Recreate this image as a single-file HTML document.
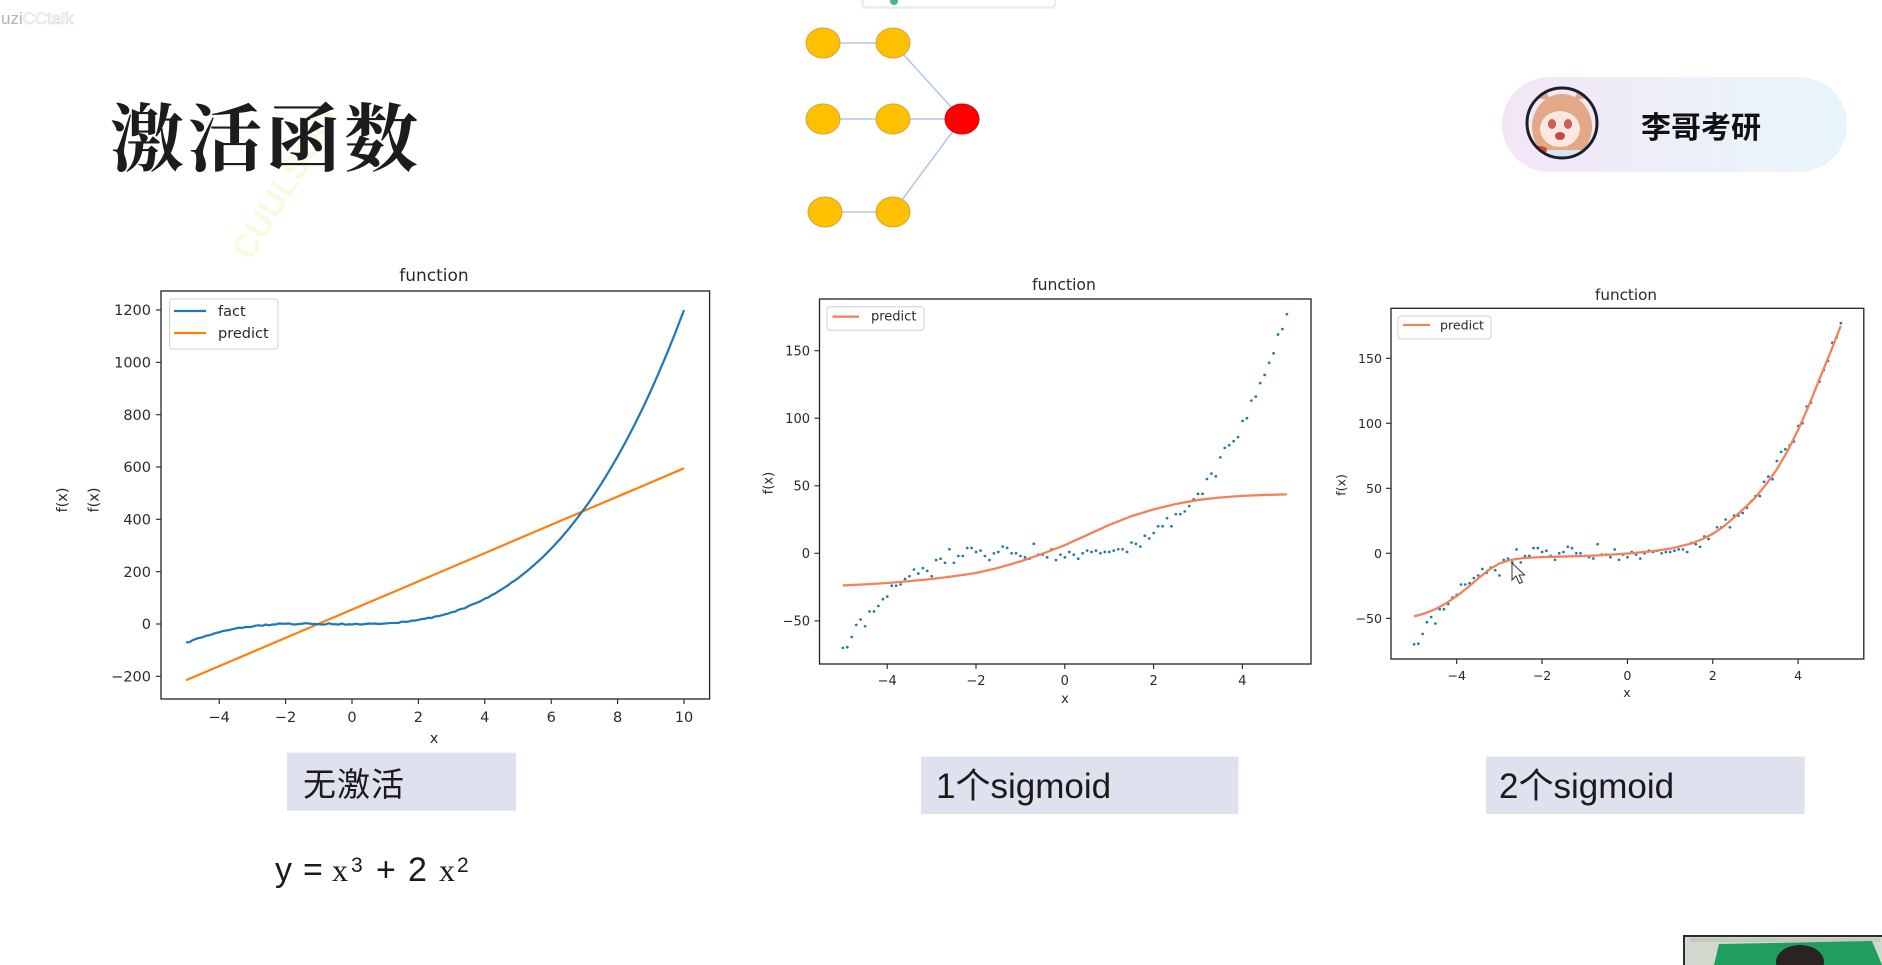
<!DOCTYPE html>
<html>
<head>
<meta charset="utf-8">
<style>
html,body{margin:0;padding:0;background:#fff;}
body{width:1882px;height:965px;overflow:hidden;}
svg{display:block;}
.t{font-family:"DejaVu Sans","Liberation Sans",sans-serif;fill:#2a2a2a;}
</style>
</head>
<body>
<svg width="1882" height="965" viewBox="0 0 1882 965" xmlns="http://www.w3.org/2000/svg">
<defs>
  <linearGradient id="pill" x1="0" y1="0" x2="1" y2="0">
    <stop offset="0" stop-color="#f3e5f7"/>
    <stop offset="0.55" stop-color="#ecf0fa"/>
    <stop offset="1" stop-color="#e8f5fb"/>
  </linearGradient>
  <clipPath id="av"><circle cx="1562" cy="123" r="34"/></clipPath>
  <path id="pts" d="M-5 -70h.004M-4.9 -69.5h.004M-4.8 -62h.004M-4.7 -53h.004M-4.6 -49h.004M-4.5 -54h.004M-4.4 -43h.004M-4.3 -43h.004M-4.2 -39h.004M-4.1 -34h.004M-4 -32h.004M-3.9 -24h.004M-3.8 -24h.004M-3.7 -23h.004M-3.6 -19h.004M-3.5 -17h.004M-3.4 -12h.004M-3.3 -15h.004M-3.2 -11h.004M-3.1 -13h.004M-3 -17h.004M-2.9 -5h.004M-2.8 -4h.004M-2.7 -7h.004M-2.6 3h.004M-2.5 -7h.004M-2.4 -2h.004M-2.3 -2h.004M-2.2 4h.004M-2.1 4h.004M-2 1h.004M-1.9 2h.004M-1.8 -2h.004M-1.7 -5h.004M-1.6 0h.004M-1.5 1h.004M-1.4 5h.004M-1.3 4h.004M-1.2 0h.004M-1.1 0h.004M-1 -2h.004M-0.9 -3h.004M-0.8 -4h.004M-0.7 7h.004M-0.6 -1h.004M-0.5 -1h.004M-0.4 -3h.004M-0.3 3h.004M-0.2 -5h.004M-0.1 -1h.004M0 -3h.004M0.1 1h.004M0.2 -1h.004M0.3 -4h.004M0.4 0h.004M0.5 2h.004M0.6 1h.004M0.7 2h.004M0.8 0h.004M0.9 1h.004M1 1h.004M1.1 2h.004M1.2 3h.004M1.3 3h.004M1.4 1h.004M1.5 8h.004M1.6 7h.004M1.7 5h.004M1.8 13h.004M1.9 11h.004M2 15h.004M2.1 20h.004M2.2 20h.004M2.3 26h.004M2.4 20h.004M2.5 29h.004M2.6 29h.004M2.7 31h.004M2.8 35h.004M2.9 40h.004M3 44h.004M3.1 44h.004M3.2 55h.004M3.3 59h.004M3.4 57h.004M3.5 71h.004M3.6 78h.004M3.7 80h.004M3.8 83h.004M3.9 86h.004M4 98h.004M4.1 100h.004M4.2 113h.004M4.3 116h.004M4.4 126h.004M4.5 132h.004M4.6 141h.004M4.7 148h.004M4.8 162h.004M4.9 166h.004M5 177h.004" fill="none" stroke="#1f77b4" stroke-width="2.6" stroke-linecap="round" vector-effect="non-scaling-stroke"/>
</defs>

<!-- watermark top-left -->
<text x="1" y="24" font-family="Liberation Sans, sans-serif" font-size="17" fill="#b3b3b3">uzi<tspan fill="#ffffff" stroke="#dedede" stroke-width="0.8">CCtalk</tspan></text>

<!-- faint watermark -->
<text x="0" y="0" transform="translate(250,262) rotate(-58)" font-family="Liberation Sans, sans-serif" font-size="34" font-weight="bold" fill="#f6fbe2">CUULSOO</text>

<!-- Title -->
<text x="110" y="165" font-family="Liberation Serif, 'Noto Serif CJK SC', serif" font-size="74" font-weight="bold" letter-spacing="4" fill="#1c1c1c">激活函数</text>

<!-- top popup -->
<rect x="861" y="-12" width="195" height="21" rx="4" fill="#f0f0f0"/>
<rect x="863" y="-12" width="192" height="19" rx="4" fill="#ffffff" stroke="#e4e4e4"/>
<circle cx="894" cy="1" r="4" fill="#45b97c"/>

<!-- network diagram -->
<g stroke="#b4c7e7" stroke-width="1.6" fill="none">
  <line x1="823" y1="43" x2="893" y2="43"/>
  <line x1="823" y1="119" x2="893" y2="119"/>
  <line x1="825" y1="212" x2="893" y2="212"/>
  <line x1="893" y1="119" x2="962" y2="119"/>
  <line x1="893" y1="43" x2="962" y2="119"/>
  <line x1="893" y1="212" x2="962" y2="119"/>
</g>
<g fill="#ffc000" stroke="#d2a640" stroke-width="1">
  <ellipse cx="823" cy="43" rx="17" ry="15"/>
  <ellipse cx="893" cy="43" rx="17" ry="15"/>
  <ellipse cx="823" cy="119" rx="17" ry="15"/>
  <ellipse cx="893" cy="119" rx="17" ry="15"/>
  <ellipse cx="825" cy="212" rx="17" ry="15"/>
  <ellipse cx="893" cy="212" rx="17" ry="15"/>
</g>
<ellipse cx="962" cy="119" rx="17" ry="15" fill="#ff0000" stroke="#c01010" stroke-width="1"/>

<!-- badge -->
<rect x="1502" y="77" width="345" height="95" rx="47.5" fill="url(#pill)"/>
<g clip-path="url(#av)">
  <rect x="1526" y="87" width="72" height="72" fill="#f1eaf2"/>
  <ellipse cx="1562" cy="127" rx="30" ry="33" fill="#e3a888"/>
  <path d="M1536 98 L1544 86 L1550 100 Z" fill="#e3a888"/>
  <path d="M1588 98 L1580 86 L1574 100 Z" fill="#e3a888"/>
  <ellipse cx="1560" cy="129" rx="20" ry="18" fill="#fbe8de"/>
  <ellipse cx="1552" cy="124" rx="4" ry="5" fill="#cf5b55"/>
  <ellipse cx="1568" cy="124" rx="4" ry="5" fill="#cf5b55"/>
  <ellipse cx="1560" cy="136" rx="5" ry="4" fill="#c24a46"/>
  <rect x="1526" y="150" width="72" height="12" fill="#dbe5f1"/>
  <ellipse cx="1540" cy="150" rx="7" ry="4" fill="#d4492f"/>
</g>
<circle cx="1562" cy="123" r="35" fill="none" stroke="#1d1d2b" stroke-width="3"/>
<text x="1641" y="138" font-family="'Noto Sans CJK SC', sans-serif" font-size="30" font-weight="bold" fill="#111">李哥考研</text>

<!-- ================= Chart 1 ================= -->
<text class="t" x="434" y="281" font-size="17" text-anchor="middle">function</text>
<g>
<rect x="161" y="291" width="548.6" height="408" fill="#fff" stroke="none"/>
<g transform="matrix(33.2,0,0,-0.26165,352,624)">
  <path d="M-5 -215 L10 595" fill="none" stroke="#ff7f0e" stroke-width="2.2" vector-effect="non-scaling-stroke"/>
  <path d="M-5 -70 L-4.9 -69.5 L-4.8 -62 L-4.7 -57 L-4.6 -53 L-4.5 -51 L-4.4 -45 L-4.3 -43 L-4.2 -39 L-4.1 -34 L-4 -32 L-3.9 -27 L-3.8 -25 L-3.7 -23 L-3.6 -20 L-3.5 -17 L-3.4 -14 L-3.3 -15 L-3.2 -11 L-3.1 -12 L-3 -10 L-2.9 -6 L-2.8 -5 L-2.7 -7 L-2.6 -2 L-2.5 -5 L-2.4 -2 L-2.3 -2 L-2.2 2 L-2.1 1 L-2 1 L-1.9 2 L-1.8 -1 L-1.7 -2 L-1.6 0 L-1.5 1 L-1.4 3 L-1.3 2 L-1.2 0 L-1.1 0 L-1 -1 L-0.9 -2 L-0.8 -2 L-0.7 3 L-0.6 -1 L-0.5 -1 L-0.4 -2 L-0.3 2 L-0.2 -3 L-0.1 -1 L0 -2 L0.1 1 L0.2 -1 L0.3 -2 L0.4 0 L0.5 2 L0.6 1 L0.7 2 L0.8 0 L0.9 1 L1 2 L1.1 3 L1.2 4 L1.3 4 L1.4 4 L1.5 9 L1.6 8 L1.7 9 L1.8 13 L1.9 13 L2 16 L2.1 19 L2.2 20 L2.3 24 L2.4 23 L2.5 29 L2.6 30 L2.7 33 L2.8 37 L2.9 40 L3 45 L3.1 47 L3.2 54 L3.3 58 L3.4 60 L3.5 68 L3.6 74 L3.7 78 L3.8 83 L3.9 89 L4 97 L4.1 101 L4.2 110 L4.3 116 L4.4 124 L4.5 132 L4.6 140 L4.7 148 L4.8 158 L4.9 166 L5 175 L5.25 200 L5.5 227 L5.75 256 L6 288 L6.25 322 L6.5 359 L6.75 399 L7 441 L7.25 486 L7.5 534 L7.75 586 L8 640 L8.25 698 L8.5 759 L8.75 823 L9 891 L9.25 963 L9.5 1038 L9.75 1117 L10 1200" fill="none" stroke="#1f77b4" stroke-width="2.2" stroke-linejoin="round" vector-effect="non-scaling-stroke"/>
</g>
<rect x="161" y="291" width="548.6" height="408" fill="none" stroke="#222" stroke-width="1.3"/>
</g>
<rect x="169.5" y="299" width="108.5" height="50" rx="3" fill="#fff" stroke="#d0d0d0" stroke-width="1"/>
<line x1="174" y1="311" x2="206" y2="311" stroke="#1f77b4" stroke-width="2.2"/>
<text class="t" x="218" y="316" font-size="14.5">fact</text>
<line x1="174" y1="333" x2="206" y2="333" stroke="#ff7f0e" stroke-width="2.2"/>
<text class="t" x="218" y="338" font-size="14.5">predict</text>
<g stroke="#222" stroke-width="1.1">
  <line x1="219.2" y1="699" x2="219.2" y2="704"/>
  <line x1="285.6" y1="699" x2="285.6" y2="704"/>
  <line x1="352" y1="699" x2="352" y2="704"/>
  <line x1="418.4" y1="699" x2="418.4" y2="704"/>
  <line x1="484.8" y1="699" x2="484.8" y2="704"/>
  <line x1="551.2" y1="699" x2="551.2" y2="704"/>
  <line x1="617.6" y1="699" x2="617.6" y2="704"/>
  <line x1="684" y1="699" x2="684" y2="704"/>
  <line x1="161" y1="676.3" x2="156" y2="676.3"/>
  <line x1="161" y1="624" x2="156" y2="624"/>
  <line x1="161" y1="571.7" x2="156" y2="571.7"/>
  <line x1="161" y1="519.3" x2="156" y2="519.3"/>
  <line x1="161" y1="467" x2="156" y2="467"/>
  <line x1="161" y1="414.7" x2="156" y2="414.7"/>
  <line x1="161" y1="362.4" x2="156" y2="362.4"/>
  <line x1="161" y1="310" x2="156" y2="310"/>
</g>
<g class="t" font-size="14.5" text-anchor="middle">
  <text x="219.2" y="722">−4</text>
  <text x="285.6" y="722">−2</text>
  <text x="352" y="722">0</text>
  <text x="418.4" y="722">2</text>
  <text x="484.8" y="722">4</text>
  <text x="551.2" y="722">6</text>
  <text x="617.6" y="722">8</text>
  <text x="684" y="722">10</text>
  <text x="434" y="743">x</text>
</g>
<g class="t" font-size="14.5" text-anchor="end">
  <text x="151" y="681.5">−200</text>
  <text x="151" y="629.2">0</text>
  <text x="151" y="576.9">200</text>
  <text x="151" y="524.5">400</text>
  <text x="151" y="472.2">600</text>
  <text x="151" y="419.9">800</text>
  <text x="151" y="367.6">1000</text>
  <text x="151" y="315.2">1200</text>
</g>
<text class="t" x="67" y="500" font-size="14.5" text-anchor="middle" transform="rotate(-90 67 500)">f(x)</text>
<text class="t" x="98.5" y="500" font-size="14.5" text-anchor="middle" transform="rotate(-90 98.5 500)">f(x)</text>

<!-- ================= Chart 2 ================= -->
<text class="t" x="1064" y="290" font-size="15.6" text-anchor="middle">function</text>
<g transform="matrix(44.4,0,0,-1.351,1064.8,553.3)">
  <use href="#pts"/>
  <path d="M-5 -23.8 L-4.5 -23 L-4 -22 L-3.5 -20.6 L-3 -19 L-2.5 -17 L-2 -14.6 L-1.5 -10.8 L-1 -6 L-0.5 -0.3 L0 6 L0.5 13.5 L1 21 L1.5 27.5 L2 32.5 L2.5 36.5 L3 39.5 L3.5 41.3 L4 42.5 L4.5 43.2 L5 43.6" fill="none" stroke="#f2825c" stroke-width="2.3" stroke-linejoin="round" vector-effect="non-scaling-stroke"/>
</g>
<rect x="819.5" y="299" width="491.5" height="365" fill="none" stroke="#222" stroke-width="1.3"/>
<rect x="827" y="306.7" width="97" height="23.5" rx="3" fill="#fff" stroke="#d0d0d0" stroke-width="1"/>
<line x1="832.5" y1="316.7" x2="859" y2="316.7" stroke="#f2825c" stroke-width="2.3"/>
<text class="t" x="871" y="320.5" font-size="13">predict</text>
<g stroke="#222" stroke-width="1.1">
  <line x1="887.2" y1="664" x2="887.2" y2="669"/>
  <line x1="976" y1="664" x2="976" y2="669"/>
  <line x1="1064.8" y1="664" x2="1064.8" y2="669"/>
  <line x1="1153.6" y1="664" x2="1153.6" y2="669"/>
  <line x1="1242.4" y1="664" x2="1242.4" y2="669"/>
  <line x1="819.5" y1="620.9" x2="814.5" y2="620.9"/>
  <line x1="819.5" y1="553.3" x2="814.5" y2="553.3"/>
  <line x1="819.5" y1="485.8" x2="814.5" y2="485.8"/>
  <line x1="819.5" y1="418.2" x2="814.5" y2="418.2"/>
  <line x1="819.5" y1="350.7" x2="814.5" y2="350.7"/>
</g>
<g class="t" font-size="13" text-anchor="middle">
  <text x="887.2" y="685">−4</text>
  <text x="976" y="685">−2</text>
  <text x="1064.8" y="685">0</text>
  <text x="1153.6" y="685">2</text>
  <text x="1242.4" y="685">4</text>
  <text x="1065" y="703">x</text>
</g>
<g class="t" font-size="13" text-anchor="end">
  <text x="810" y="625.6">−50</text>
  <text x="810" y="558">0</text>
  <text x="810" y="490.5">50</text>
  <text x="810" y="422.9">100</text>
  <text x="810" y="355.4">150</text>
</g>
<text class="t" x="772.5" y="483" font-size="13" text-anchor="middle" transform="rotate(-90 772.5 483)">f(x)</text>

<!-- ================= Chart 3 ================= -->
<text class="t" x="1626" y="300" font-size="15.2" text-anchor="middle">function</text>
<g transform="matrix(42.68,0,0,-1.3,1627.4,553.3)">
  <use href="#pts"/>
  <path d="M-5 -48.5 L-4.75 -46.3 L-4.5 -43 L-4.25 -38.5 L-4 -33 L-3.75 -26.5 L-3.5 -19.5 L-3.25 -12.8 L-3 -7.8 L-2.75 -5.2 L-2.5 -3.9 L-2.25 -3.3 L-2 -2.9 L-1.5 -2.5 L-1 -2.1 L-0.5 -1.3 L0 -0.2 L0.5 1.3 L1 3.5 L1.5 7.5 L1.75 10.8 L2 15 L2.25 20.5 L2.5 27.5 L2.75 35 L3 43 L3.25 53 L3.5 64.5 L3.75 78.5 L4 95 L4.25 113.5 L4.5 134 L4.75 154 L5 175" fill="none" stroke="#f2825c" stroke-width="2.3" stroke-linejoin="round" vector-effect="non-scaling-stroke"/>
</g>
<rect x="1391" y="308.3" width="472.8" height="350.7" fill="none" stroke="#222" stroke-width="1.3"/>
<rect x="1398" y="316" width="93" height="23" rx="3" fill="#fff" stroke="#d0d0d0" stroke-width="1"/>
<line x1="1403" y1="325" x2="1430" y2="325" stroke="#f2825c" stroke-width="2.3"/>
<text class="t" x="1440" y="329.5" font-size="12.6">predict</text>
<g stroke="#222" stroke-width="1.1">
  <line x1="1456.7" y1="659" x2="1456.7" y2="664"/>
  <line x1="1542" y1="659" x2="1542" y2="664"/>
  <line x1="1627.4" y1="659" x2="1627.4" y2="664"/>
  <line x1="1712.8" y1="659" x2="1712.8" y2="664"/>
  <line x1="1798.1" y1="659" x2="1798.1" y2="664"/>
  <line x1="1391" y1="618.3" x2="1386" y2="618.3"/>
  <line x1="1391" y1="553.3" x2="1386" y2="553.3"/>
  <line x1="1391" y1="488.3" x2="1386" y2="488.3"/>
  <line x1="1391" y1="423.3" x2="1386" y2="423.3"/>
  <line x1="1391" y1="358.3" x2="1386" y2="358.3"/>
</g>
<g class="t" font-size="12.6" text-anchor="middle">
  <text x="1456.7" y="680">−4</text>
  <text x="1542" y="680">−2</text>
  <text x="1627.4" y="680">0</text>
  <text x="1712.8" y="680">2</text>
  <text x="1798.1" y="680">4</text>
  <text x="1627" y="697">x</text>
</g>
<g class="t" font-size="12.6" text-anchor="end">
  <text x="1382" y="622.8">−50</text>
  <text x="1382" y="557.8">0</text>
  <text x="1382" y="492.8">50</text>
  <text x="1382" y="427.8">100</text>
  <text x="1382" y="362.8">150</text>
</g>
<text class="t" x="1345.5" y="485" font-size="12.6" text-anchor="middle" transform="rotate(-90 1345.5 485)">f(x)</text>
<path d="M1512 563 L1512 580 L1516 576 L1519.5 583.5 L1522.5 582 L1519 575 L1524.5 575 Z" fill="#fff" stroke="#333" stroke-width="1"/>

<!-- ================= bottom labels ================= -->
<rect x="287" y="752.7" width="229" height="58" fill="#dfe1ef"/>
<text x="303" y="796" font-family="'Noto Sans CJK SC', sans-serif" font-size="33" letter-spacing="1" fill="#1a1a1a">无激活</text>

<rect x="921" y="756.7" width="317.5" height="57.3" fill="#dfe1ef"/>
<text x="936" y="798" font-family="'Liberation Sans','Noto Sans CJK SC', sans-serif" font-size="35" fill="#1a1a1a">1个sigmoid</text>

<rect x="1486" y="756.7" width="318.6" height="57.3" fill="#dfe1ef"/>
<text x="1499" y="798" font-family="'Liberation Sans','Noto Sans CJK SC', sans-serif" font-size="35" fill="#1a1a1a">2个sigmoid</text>

<!-- equation -->
<g fill="#1a1a1a">
  <text x="275" y="881" font-family="Liberation Sans, sans-serif" font-size="34">y</text>
  <text x="303" y="881" font-family="Liberation Sans, sans-serif" font-size="34">=</text>
  <text x="332" y="881" font-family="Liberation Serif, serif" font-size="32">x</text>
  <text x="351" y="872" font-family="Liberation Sans, sans-serif" font-size="21">3</text>
  <text x="376" y="881" font-family="Liberation Sans, sans-serif" font-size="34">+</text>
  <text x="408" y="881" font-family="Liberation Sans, sans-serif" font-size="34">2</text>
  <text x="439" y="881" font-family="Liberation Serif, serif" font-size="32">x</text>
  <text x="457" y="872" font-family="Liberation Sans, sans-serif" font-size="21">2</text>
</g>

<!-- webcam -->
<rect x="1684" y="936" width="200" height="32" fill="#d3d8cf" stroke="#2b2b2b" stroke-width="2"/>
<rect x="1690" y="938" width="190" height="4" fill="#c4c9c0"/>
<path d="M1719 944 L1872 941 L1882 965 L1714 965 Z" fill="#1f9e5d"/>
<ellipse cx="1800" cy="962" rx="24" ry="17" fill="#2a231f"/>
</svg>
</body>
</html>
